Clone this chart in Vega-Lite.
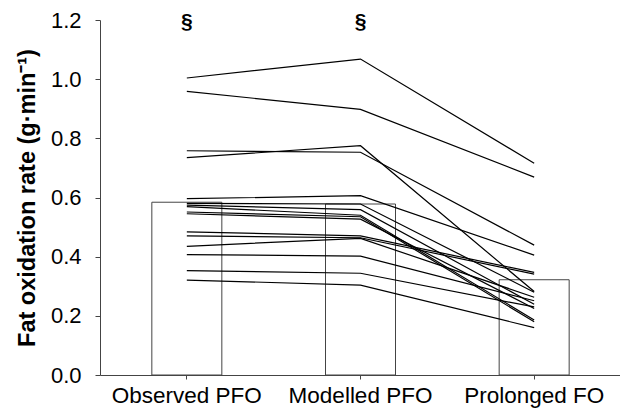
{
  "$schema": "https://vega.github.io/schema/vega-lite/v6.json",
  "autosize": "none",
  "width": 521,
  "height": 355,
  "padding": {"left": 100, "top": 20, "right": 0, "bottom": 45},
  "background": "white",
  "config": {
    "view": {"stroke": null},
    "font": "Liberation Sans",
    "axis": {"labelFont": "Liberation Sans", "titleFont": "Liberation Sans", "labelColor": "black", "titleColor": "black", "domainColor": "#444", "tickColor": "#444", "grid": false}
  },
  "datasets": {
    "means": [
      {"condition": "Observed PFO", "rate": 0.584},
      {"condition": "Modelled PFO", "rate": 0.578},
      {"condition": "Prolonged FO", "rate": 0.322}
    ],
    "marks": [
      {"condition": "Observed PFO", "label": "§", "rate": 1.2},
      {"condition": "Modelled PFO", "label": "§", "rate": 1.2}
    ],
    "subjects": [
      {"subject": 1, "condition": "Observed PFO", "rate": 1.004},
      {"subject": 1, "condition": "Modelled PFO", "rate": 1.068},
      {"subject": 1, "condition": "Prolonged FO", "rate": 0.716},
      {"subject": 2, "condition": "Observed PFO", "rate": 0.959},
      {"subject": 2, "condition": "Modelled PFO", "rate": 0.898},
      {"subject": 2, "condition": "Prolonged FO", "rate": 0.669},
      {"subject": 3, "condition": "Observed PFO", "rate": 0.758},
      {"subject": 3, "condition": "Modelled PFO", "rate": 0.753},
      {"subject": 3, "condition": "Prolonged FO", "rate": 0.439},
      {"subject": 4, "condition": "Observed PFO", "rate": 0.735},
      {"subject": 4, "condition": "Modelled PFO", "rate": 0.775},
      {"subject": 4, "condition": "Prolonged FO", "rate": 0.282},
      {"subject": 5, "condition": "Observed PFO", "rate": 0.596},
      {"subject": 5, "condition": "Modelled PFO", "rate": 0.606},
      {"subject": 5, "condition": "Prolonged FO", "rate": 0.405},
      {"subject": 6, "condition": "Observed PFO", "rate": 0.580},
      {"subject": 6, "condition": "Modelled PFO", "rate": 0.578},
      {"subject": 6, "condition": "Prolonged FO", "rate": 0.280},
      {"subject": 7, "condition": "Observed PFO", "rate": 0.574},
      {"subject": 7, "condition": "Modelled PFO", "rate": 0.559},
      {"subject": 7, "condition": "Prolonged FO", "rate": 0.239},
      {"subject": 8, "condition": "Observed PFO", "rate": 0.569},
      {"subject": 8, "condition": "Modelled PFO", "rate": 0.540},
      {"subject": 8, "condition": "Prolonged FO", "rate": 0.186},
      {"subject": 9, "condition": "Observed PFO", "rate": 0.551},
      {"subject": 9, "condition": "Modelled PFO", "rate": 0.535},
      {"subject": 9, "condition": "Prolonged FO", "rate": 0.180},
      {"subject": 10, "condition": "Observed PFO", "rate": 0.545},
      {"subject": 10, "condition": "Modelled PFO", "rate": 0.527},
      {"subject": 10, "condition": "Prolonged FO", "rate": 0.225},
      {"subject": 11, "condition": "Observed PFO", "rate": 0.484},
      {"subject": 11, "condition": "Modelled PFO", "rate": 0.470},
      {"subject": 11, "condition": "Prolonged FO", "rate": 0.347},
      {"subject": 12, "condition": "Observed PFO", "rate": 0.470},
      {"subject": 12, "condition": "Modelled PFO", "rate": 0.464},
      {"subject": 12, "condition": "Prolonged FO", "rate": 0.341},
      {"subject": 13, "condition": "Observed PFO", "rate": 0.435},
      {"subject": 13, "condition": "Modelled PFO", "rate": 0.462},
      {"subject": 13, "condition": "Prolonged FO", "rate": 0.263},
      {"subject": 14, "condition": "Observed PFO", "rate": 0.407},
      {"subject": 14, "condition": "Modelled PFO", "rate": 0.402},
      {"subject": 14, "condition": "Prolonged FO", "rate": 0.251},
      {"subject": 15, "condition": "Observed PFO", "rate": 0.353},
      {"subject": 15, "condition": "Modelled PFO", "rate": 0.344},
      {"subject": 15, "condition": "Prolonged FO", "rate": 0.230},
      {"subject": 16, "condition": "Observed PFO", "rate": 0.321},
      {"subject": 16, "condition": "Modelled PFO", "rate": 0.304},
      {"subject": 16, "condition": "Prolonged FO", "rate": 0.160}
    ]
  },
  "encoding": {
    "x": {
      "field": "condition",
      "type": "nominal",
      "sort": ["Observed PFO", "Modelled PFO", "Prolonged FO"],
      "scale": {"paddingInner": 0, "paddingOuter": 0},
      "axis": {"title": null, "labelAngle": 0, "labelFontSize": 22.5, "labelPadding": 5, "tickSize": 4, "bandPosition": 0.5, "domainWidth": 1}
    },
    "y": {
      "field": "rate",
      "type": "quantitative",
      "scale": {"domain": [0, 1.2], "nice": false, "zero": true},
      "axis": {"title": "Fat oxidation rate (g·min⁻¹)", "titleFontSize": 23.5, "titleFontWeight": "bold", "titlePadding": 11, "values": [0, 0.2, 0.4, 0.6, 0.8, 1.0, 1.2], "format": ".1f", "labelFontSize": 22, "labelPadding": 14, "tickSize": 5}
    }
  },
  "layer": [
    {
      "data": {"name": "means"},
      "mark": {"type": "bar", "size": 70, "fill": "white", "stroke": "#444", "strokeWidth": 1}
    },
    {
      "data": {"name": "subjects"},
      "mark": {"type": "line", "color": "black", "strokeWidth": 1.2},
      "encoding": {"detail": {"field": "subject", "type": "nominal"}}
    },
    {
      "data": {"name": "marks"},
      "mark": {"type": "text", "fontSize": 21, "fontWeight": "bold", "baseline": "middle", "dy": 2, "color": "black"},
      "encoding": {"text": {"field": "label"}}
    }
  ]
}
